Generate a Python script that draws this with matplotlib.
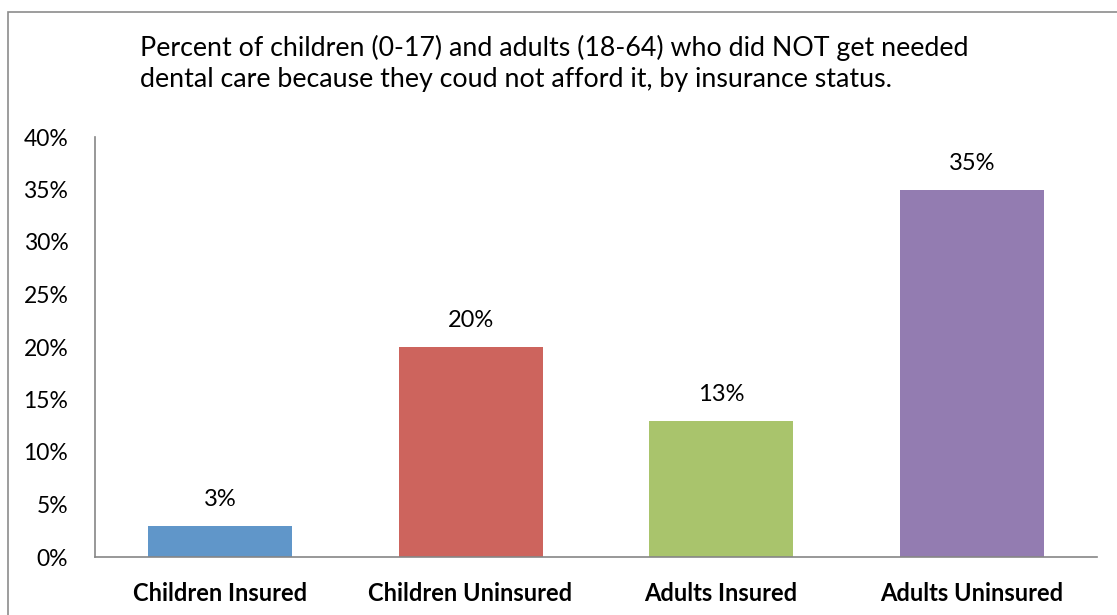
import matplotlib.pyplot as plt
from matplotlib.patches import Rectangle

plt.rcParams['font.family'] = ['Lato', 'DejaVu Sans']

# Данные
categories = ["Children Insured", "Children Uninsured", "Adults Insured", "Adults Uninsured"]
values = [3, 20, 13, 35]
labels = ["3%", "20%", "13%", "35%"]
colors = ["#6096C9", "#CD645D", "#A9C46C", "#937CB1"]
yticks = [0, 5, 10, 15, 20, 25, 30, 35, 40]

W, H = 1117, 615
fig = plt.figure(figsize=(W / 100, H / 100), dpi=100)

# Рамка вокруг диаграммы (правый и нижний края за пределами картинки)
fig.patches.append(Rectangle((8 / W, -10 / H), 1200 / W, (H - 12 + 10) / H, transform=fig.transFigure,
                             fill=False, edgecolor="#8C8C8C", linewidth=1.2))

ax = fig.add_axes([94.7 / W, 1 - 557 / H, (1097 - 94.7) / W, 420 / H])
x = list(range(len(categories)))
ax.bar(x, values, width=0.575, color=colors)
ax.set_xlim(-0.5, 3.5)
ax.set_ylim(0, 40)

for xi, v, lab in zip(x, values, labels):
    ax.annotate(lab, (xi, v), xytext=(0, 19), textcoords="offset points",
                ha="center", va="center", fontsize=17)

ax.set_yticks(yticks)
ax.set_yticklabels([f"{t}%" for t in yticks], fontsize=16.5)
ax.set_xticks(x)
ax.set_xticklabels(categories, fontsize=17, fontweight="bold")
ax.tick_params(axis="y", length=0, pad=19)
ax.tick_params(axis="x", length=0, pad=18)
for t in ax.get_yticklabels():
    t.set_y(t.get_position()[1])

for s in ["top", "right"]:
    ax.spines[s].set_visible(False)
for s in ["left", "bottom"]:
    ax.spines[s].set_color("#868686")
    ax.spines[s].set_linewidth(1.2)

fig.text(140 / W, 1 - 63 / H, "Percent of children (0-17) and adults (18-64) who did NOT get needed\n"
         "dental care because they coud not afford it, by insurance status.",
         ha="left", va="center", fontsize=19.3, linespacing=1.3)

fig.savefig("out.png", dpi=100)
